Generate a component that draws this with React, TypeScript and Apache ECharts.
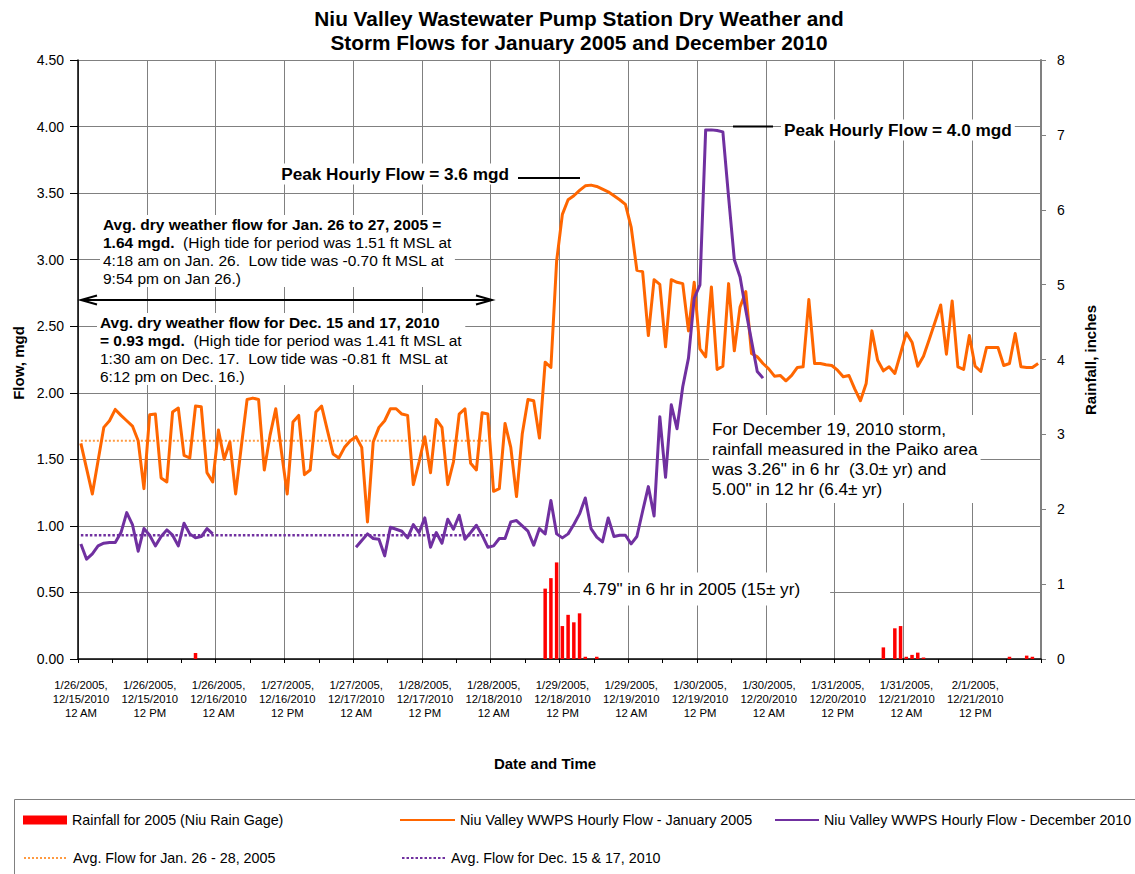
import React, { useEffect, useRef } from 'react';
import * as echarts from 'echarts';

const TOTAL_HOURS = 168;
const TICK_LABELS = [
  '1/26/2005,\n12/15/2010\n12 AM',
  '1/26/2005,\n12/15/2010\n12 PM',
  '1/26/2005,\n12/16/2010\n12 AM',
  '1/27/2005,\n12/16/2010\n12 PM',
  '1/27/2005,\n12/17/2010\n12 AM',
  '1/28/2005,\n12/17/2010\n12 PM',
  '1/28/2005,\n12/18/2010\n12 AM',
  '1/29/2005,\n12/18/2010\n12 PM',
  '1/29/2005,\n12/19/2010\n12 AM',
  '1/30/2005,\n12/19/2010\n12 PM',
  '1/30/2005,\n12/20/2010\n12 AM',
  '1/31/2005,\n12/20/2010\n12 PM',
  '1/31/2005,\n12/21/2010\n12 AM',
  '2/1/2005,\n12/21/2010\n12 PM',
];

// Hourly flow, January 2005 (mgd), hour 0 = 1/26/2005 12 AM
const FLOW_2005 = [
  1.62, 1.43, 1.24, 1.49, 1.74, 1.79, 1.875, 1.83, 1.79, 1.75, 1.64, 1.28,
  1.835, 1.84, 1.36, 1.33, 1.855, 1.885, 1.53, 1.51, 1.9, 1.895, 1.4, 1.33,
  1.72, 1.5, 1.63, 1.24, 1.6, 1.95, 1.96, 1.95, 1.42, 1.68, 1.88, 1.555,
  1.24, 1.78, 1.83, 1.385, 1.42, 1.855, 1.9, 1.72, 1.54, 1.51, 1.59, 1.64,
  1.67, 1.59, 1.03, 1.63, 1.74, 1.79, 1.88, 1.88, 1.84, 1.83, 1.31, 1.48,
  1.67, 1.4, 1.8, 1.74, 1.31, 1.48, 1.84, 1.88, 1.47, 1.42, 1.85, 1.84,
  1.26, 1.28, 1.77, 1.59, 1.22, 1.69, 1.95, 1.94, 1.66, 2.23, 2.19, 2.99,
  3.34, 3.45, 3.48, 3.52, 3.555, 3.56, 3.55, 3.53, 3.51, 3.48, 3.45, 3.415,
  3.245, 2.92, 2.91, 2.43, 2.85, 2.815, 2.345, 2.85, 2.83, 2.82, 2.465, 2.83,
  2.33, 2.27, 2.795, 2.175, 2.2, 2.82, 2.315, 2.645, 2.76, 2.295, 2.27, 2.22,
  2.18, 2.125, 2.13, 2.09, 2.13, 2.19, 2.195, 2.7, 2.22, 2.22, 2.21, 2.205,
  2.17, 2.12, 2.13, 2.03, 1.94, 2.07, 2.465, 2.245, 2.165, 2.195, 2.145, 2.295,
  2.45, 2.38, 2.2, 2.275, 2.4, 2.53, 2.66, 2.29, 2.69, 2.195, 2.175, 2.43,
  2.2, 2.16, 2.34, 2.34, 2.34, 2.205, 2.22, 2.445, 2.195, 2.19, 2.19, 2.22,
];

// Hourly flow, December 2010 (mgd), hour 0 = 12/15/2010 12 AM ; null = no record
const FLOW_2010 = [
  0.864, 0.75, 0.79, 0.85, 0.87, 0.875, 0.875, 0.95, 1.1, 1.01, 0.81, 0.98,
  0.93, 0.85, 0.92, 0.97, 0.93, 0.85, 1.02, 0.94, 0.91, 0.92, 0.98, 0.94,
  null, null, null, null, null, null, null, null, null, null, null, null,
  null, null, null, null, null, null, null, null, null, null, null, null,
  0.84, 0.89, 0.94, 0.905, 0.9, 0.775, 0.99, 0.975, 0.96, 0.91, 1.01, 0.95,
  1.06, 0.84, 0.95, 0.87, 1.05, 0.975, 1.08, 0.9, 0.95, 1.005, 0.93, 0.84,
  0.85, 0.905, 0.905, 1.03, 1.04, 1.0, 0.96, 0.855, 0.98, 0.94, 1.19, 0.94,
  0.91, 0.94, 1.01, 1.09, 1.21, 0.98, 0.915, 0.88, 1.06, 0.92, 0.93, 0.93,
  0.865, 0.92, 1.11, 1.295, 1.075, 1.82, 1.365, 1.91, 1.73, 2.045, 2.26, 2.71,
  2.81, 3.975, 3.975, 3.97, 3.96, 3.47, 3.0, 2.87, 2.62, 2.39, 2.16, 2.11,
];

// Rainfall (inches) by hour index
const RAIN_HOURS = [20, 81, 82, 83, 84, 85, 86, 87, 88, 90, 140, 142, 143, 144, 145, 146, 147, 162, 165, 166];
const RAIN_INCHES = [0.08, 0.94, 1.08, 1.29, 0.44, 0.59, 0.49, 0.61, 0.03, 0.03, 0.155, 0.41, 0.44, 0.03, 0.055, 0.085, 0.02, 0.03, 0.045, 0.03];

const AVG_2005 = 1.64;
const AVG_2010 = 0.93;
const AVG_FIRST_HOUR = 0;
const AVG_LAST_HOUR = 71;

const LEFT_TICKS = { min: 0, max: 4.5, interval: 0.5 };
const RIGHT_TICKS = { min: 0, max: 8, interval: 1 };

const NAME_RAIN = 'Rainfall for 2005 (Niu Rain Gage)';
const NAME_2005 = 'Niu Valley WWPS Hourly Flow - January 2005';
const NAME_2010 = 'Niu Valley WWPS Hourly Flow - December 2010';
const NAME_AVG_2005 = 'Avg. Flow for Jan. 26 - 28, 2005';
const NAME_AVG_2010 = 'Avg. Flow for Dec. 15 & 17, 2010';

const FONT = '"Liberation Sans", Arial, Helvetica, sans-serif';

const xOf = (i: number) => i + 0.5;

export default function App() {
  const ref = useRef<HTMLDivElement>(null);

  useEffect(() => {
    document.body.style.margin = '0';
    if (!ref.current) return;
    const chart = echarts.init(ref.current, undefined, { renderer: 'svg' });

    const rainData = RAIN_HOURS.map((h, k) => [xOf(h), RAIN_INCHES[k]]);
    const d2005 = FLOW_2005.map((v, i) => [xOf(i), v]);
    const d2010 = FLOW_2010.map((v, i) => [xOf(i), v === null ? '-' : v]);
    const avg2005 = [[xOf(AVG_FIRST_HOUR), AVG_2005], [xOf(AVG_LAST_HOUR), AVG_2005]];
    const avg2010 = [[xOf(AVG_FIRST_HOUR), AVG_2010], [xOf(AVG_LAST_HOUR), AVG_2010]];

    const legendBase = {
      orient: 'horizontal',
      padding: 0,
      selectedMode: false,
      itemHeight: 9,
      textStyle: { fontSize: 14.3, color: '#000', fontFamily: FONT },
    };
    const lineLegend = { ...legendBase, itemStyle: { opacity: 0, borderWidth: 0 } };

    const txt = (x: number, y: number, text: string, extra: any = {}) => ({
      type: 'text',
      x,
      y,
      z: 1,
      style: {
        text,
        fill: '#000',
        fontFamily: FONT,
        fontSize: 15,
        ...extra,
      },
    });

    const blockRich = {
      b: { fontWeight: 'bold', fontSize: 15.5, lineHeight: 18, fontFamily: FONT, fill: '#000' },
      n: { fontSize: 15.5, lineHeight: 18, fontFamily: FONT, fill: '#000' },
    };

    const option: any = {
      animation: false,
      backgroundColor: '#fff',
      grid: { left: 78, right: 94, top: 60, bottom: 215, containLabel: false },
      xAxis: {
        type: 'value',
        min: 0,
        max: TOTAL_HOURS,
        interval: 12,
        axisLine: { show: true, onZero: false, lineStyle: { color: '#000', width: 1.5 } },
        axisTick: { show: true, length: 4, lineStyle: { color: '#000' } },
        minorTick: { show: true, splitNumber: 2, length: 4, lineStyle: { color: '#000' } },
        splitLine: { show: true, lineStyle: { color: '#808080', width: 1 } },
        axisLabel: {
          fontSize: 11.3,
          lineHeight: 14,
          color: '#000',
          fontFamily: FONT,
          margin: 19,
          padding: [0, 0, 0, 6],
          showMaxLabel: false,
          formatter: (v: number) => TICK_LABELS[Math.round(v / 12)] ?? '',
        },
      },
      yAxis: [
        {
          type: 'value',
          position: 'left',
          ...LEFT_TICKS,
          axisLine: { show: true, lineStyle: { color: '#000', width: 1.5 } },
          axisTick: { show: true, length: 8, lineStyle: { color: '#000' } },
          splitLine: { show: true, lineStyle: { color: '#808080', width: 1 } },
          axisLabel: {
            fontSize: 14,
            color: '#000',
            fontFamily: FONT,
            margin: 14,
            formatter: (v: number) => v.toFixed(2),
          },
        },
        {
          type: 'value',
          position: 'right',
          ...RIGHT_TICKS,
          axisLine: { show: true, lineStyle: { color: '#808080', width: 2 } },
          axisTick: { show: true, length: 5, lineStyle: { color: '#808080' } },
          splitLine: { show: false },
          axisLabel: { fontSize: 14, color: '#000', fontFamily: FONT, margin: 16 },
        },
      ],
      legend: [
        { ...legendBase, data: [{ name: NAME_RAIN, icon: 'rect' }], left: 23, top: 813, itemWidth: 44 },
        { ...lineLegend, data: [NAME_2005], left: 399, top: 813, itemWidth: 55 },
        { ...lineLegend, data: [NAME_2010], left: 774, top: 813, itemWidth: 44 },
        { ...lineLegend, data: [NAME_AVG_2005], left: 23, top: 851, itemWidth: 44 },
        { ...lineLegend, data: [NAME_AVG_2010], left: 401, top: 851, itemWidth: 44 },
      ],
      series: [
        {
          name: NAME_RAIN,
          type: 'bar',
          yAxisIndex: 1,
          data: rainData,
          barWidth: 3.5,
          itemStyle: { color: '#FF0000' },
          z: 2,
        },
        {
          name: NAME_AVG_2005,
          type: 'line',
          data: avg2005,
          symbol: 'none',
          lineStyle: { color: '#FF9A40', width: 2, type: [2, 2] },
          itemStyle: { color: '#FF9A40' },
          z: 3,
        },
        {
          name: NAME_AVG_2010,
          type: 'line',
          data: avg2010,
          symbol: 'none',
          lineStyle: { color: '#7030A0', width: 2.5, type: [2.5, 2] },
          itemStyle: { color: '#7030A0' },
          z: 3,
        },
        {
          name: NAME_2005,
          type: 'line',
          data: d2005,
          symbol: 'none',
          lineStyle: { color: '#FF6600', width: 3, join: 'round' },
          itemStyle: { color: '#FF6600' },
          z: 4,
        },
        {
          name: NAME_2010,
          type: 'line',
          data: d2010,
          symbol: 'none',
          connectNulls: false,
          lineStyle: { color: '#7030A0', width: 3, join: 'round' },
          itemStyle: { color: '#7030A0' },
          z: 5,
        },
      ],
      graphic: {
        elements: [
          txt(579, 18, 'Niu Valley Wastewater Pump Station Dry Weather and', {
            fontSize: 20.8, fontWeight: 'bold', align: 'center', verticalAlign: 'middle',
          }),
          txt(579, 42, 'Storm Flows for January 2005 and December 2010', {
            fontSize: 20.8, fontWeight: 'bold', align: 'center', verticalAlign: 'middle',
          }),
          {
            type: 'text', x: 18, y: 363, rotation: Math.PI / 2, z: 1,
            style: { text: 'Flow, mgd', fill: '#000', fontFamily: FONT, fontSize: 15, fontWeight: 'bold', align: 'center', verticalAlign: 'middle' },
          },
          {
            type: 'text', x: 1090, y: 360, rotation: Math.PI / 2, z: 1,
            style: { text: 'Rainfall, inches', fill: '#000', fontFamily: FONT, fontSize: 15, fontWeight: 'bold', align: 'center', verticalAlign: 'middle' },
          },
          txt(545, 763, 'Date and Time', { fontSize: 15, fontWeight: 'bold', align: 'center', verticalAlign: 'middle' }),
          // Peak labels
          txt(512, 174, 'Peak Hourly Flow = 3.6 mgd', {
            fontSize: 17.2, fontWeight: 'bold', align: 'right', verticalAlign: 'middle', backgroundColor: '#fff', padding: [2, 3],
          }),
          { type: 'line', z: 1, shape: { x1: 518, y1: 178, x2: 580, y2: 178 }, style: { stroke: '#000', lineWidth: 2 } },
          txt(781, 130, 'Peak Hourly Flow = 4.0 mgd', {
            fontSize: 17.2, fontWeight: 'bold', align: 'left', verticalAlign: 'middle', backgroundColor: '#fff', padding: [2, 3],
          }),
          { type: 'line', z: 1, shape: { x1: 733, y1: 126.5, x2: 773, y2: 126.5 }, style: { stroke: '#000', lineWidth: 2 } },
          // Block 1
          txt(100, 215,
            '{b|Avg. dry weather flow for Jan. 26 to 27, 2005 =}\n{b|1.64 mgd.}{n|  (High tide for period was 1.51 ft MSL at}\n{n|4:18 am on Jan. 26.  Low tide was -0.70 ft MSL at}\n{n|9:54 pm on Jan 26.)}',
            { align: 'left', verticalAlign: 'top', backgroundColor: '#fff', padding: [0, 3], rich: blockRich }),
          // Double arrow
          { type: 'line', z: 1, shape: { x1: 81, y1: 300, x2: 492, y2: 300 }, style: { stroke: '#000', lineWidth: 2 } },
          { type: 'polyline', z: 1, shape: { points: [[97, 295.5], [81, 300], [97, 304.5]] }, style: { stroke: '#000', lineWidth: 2, fill: 'none' } },
          { type: 'polyline', z: 1, shape: { points: [[476, 295.5], [492, 300], [476, 304.5]] }, style: { stroke: '#000', lineWidth: 2, fill: 'none' } },
          // Block 2
          txt(97, 313,
            '{b|Avg. dry weather flow for Dec. 15 and 17, 2010}\n{b|= 0.93 mgd.}{n|  (High tide for period was 1.41 ft MSL at}\n{n|1:30 am on Dec. 17.  Low tide was -0.81 ft  MSL at}\n{n|6:12 pm on Dec. 16.)}',
            { align: 'left', verticalAlign: 'top', backgroundColor: '#fff', padding: [0, 3], rich: blockRich }),
          // Block 3
          txt(709, 415,
            'For December 19, 2010 storm,\nrainfall measured in the Paiko area\nwas 3.26" in 6 hr  (3.0\u00b1 yr) and\n5.00" in 12 hr (6.4\u00b1 yr)',
            { fontSize: 17.2, lineHeight: 20, align: 'left', verticalAlign: 'top', backgroundColor: '#fff', padding: [4, 3, 4, 3] }),
          // 4.79 note
          txt(580, 589, '4.79" in 6 hr in 2005 (15\u00b1 yr)', {
            fontSize: 17.2, align: 'left', verticalAlign: 'middle', backgroundColor: '#fff', padding: [8, 30, 8, 3],
          }),
          // Legend frame
          { type: 'rect', z: 0, shape: { x: 14.5, y: 799.5, width: 1200, height: 120 }, style: { stroke: '#808080', lineWidth: 1, fill: 'none' } },
        ],
      },
    };

    chart.setOption(option);
    return () => chart.dispose();
  }, []);

  return <div ref={ref} style={{ width: 1135, height: 874 }} />;
}
